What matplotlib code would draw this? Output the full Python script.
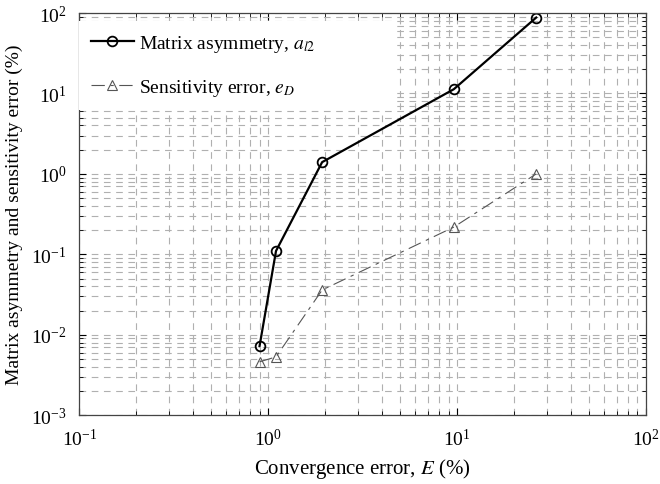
import numpy as np
import matplotlib
matplotlib.use('Agg')
import matplotlib.pyplot as plt
from matplotlib.ticker import LogLocator, NullFormatter

# data
conv_error = [0.9, 1.1, 1.93, 9.6, 26.2]
matrix_asym = [0.0072, 0.11, 1.4, 11.3, 88.0]
sens_error = [0.0046, 0.0053, 0.036, 0.218, 1.0]

plt.rcParams.update({
    'font.family': ['Liberation Serif', 'DejaVu Serif'],
    'mathtext.fontset': 'stix',
    'font.size': 13,
})

fig = plt.figure(figsize=(6.6, 4.85), dpi=100)
ax = fig.add_axes([0.12, 0.142, 0.859, 0.829])

ax.plot(conv_error, matrix_asym, color='black', lw=1.6, marker='o', ms=7,
        mfc='none', mec='black', mew=1.3, label='Matrix asymmetry, $a_{l2}$')
ax.plot(conv_error, sens_error, color='#555555', lw=0.8, dashes=(12, 5, 3, 5),
        marker='^', ms=7, mfc='none', mec='#555555', mew=0.8,
        label='Sensitivity error, $e_D$')

ax.set_xscale('log')
ax.set_yscale('log')
ax.set_xlim(0.1, 100)
ax.set_ylim(1e-3, 100)

ax.xaxis.set_major_locator(LogLocator(base=10, numticks=10))
ax.yaxis.set_major_locator(LogLocator(base=10, numticks=10))
ax.xaxis.set_minor_locator(LogLocator(base=10, subs=np.arange(2, 10), numticks=20))
ax.yaxis.set_minor_locator(LogLocator(base=10, subs=np.arange(2, 10), numticks=20))
ax.xaxis.set_minor_formatter(NullFormatter())
ax.yaxis.set_minor_formatter(NullFormatter())

ax.grid(True, which='both', color='#b0b0b0', lw=0.8, dashes=(6, 5))
ax.set_axisbelow(True)

ax.tick_params(which='both', direction='in', top=True, right=True, labelsize=14)
ax.tick_params(which='major', length=5, width=0.8, pad=9)
ax.tick_params(which='minor', length=3, width=0.6)
for s in ax.spines.values():
    s.set_color('#444444')
    s.set_linewidth(0.9)

ax.set_xlabel('Convergence error, $E$ (%)', fontsize=15, labelpad=5)
ax.set_ylabel('Matrix asymmetry and sensitivity error (%)', fontsize=14, labelpad=6)

leg = ax.legend(loc='upper left', bbox_to_anchor=(0.0, 0.0, 0.555, 0.98),
                mode='expand', fontsize=14,
                frameon=True, fancybox=False, framealpha=1, edgecolor='none',
                handlelength=2.2, labelspacing=1.2, borderpad=0.6,
                borderaxespad=0.0, handletextpad=0.3)

plt.savefig('out.png', dpi=100)
plt.close()
